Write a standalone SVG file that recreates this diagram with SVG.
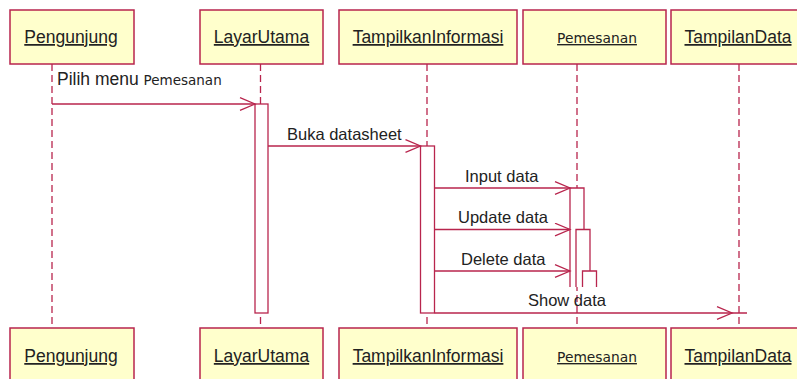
<svg xmlns="http://www.w3.org/2000/svg" width="797" height="379" viewBox="0 0 797 379">
  <style>
    .obj { fill: #FFFFCC; stroke: #B8254D; stroke-width: 1.5; }
    .name { font-family: "Liberation Sans", Arial, sans-serif; font-size: 17.5px; fill: #222; text-anchor: middle; text-decoration: underline; }
    .name-s { font-family: "DejaVu Sans", Verdana, sans-serif; font-size: 13.8px; fill: #222; text-anchor: middle; text-decoration: underline; }
    .life { stroke: #B8254D; stroke-width: 1.3; stroke-dasharray: 7 4; fill: none; }
    .act { fill: #FFFFFF; stroke: #B8254D; stroke-width: 1.3; }
    .actf { fill: #FFFFFF; stroke: none; }
    .acts { fill: none; stroke: #B8254D; stroke-width: 1.3; }
    .msg { stroke: #B8254D; stroke-width: 1.3; fill: none; }
    .head { stroke: #B8254D; stroke-width: 1.3; fill: none; }
    .lbl { font-family: "Liberation Sans", Arial, sans-serif; font-size: 16.5px; fill: #222; }
    .lbl-s { font-family: "DejaVu Sans", Verdana, sans-serif; font-size: 13.5px; fill: #222; }
  </style>
  <defs>
    <marker id="open" markerWidth="18" markerHeight="14" refX="16" refY="7" orient="auto" markerUnits="userSpaceOnUse">
      <path d="M1,0.7 L16,7 L1,13.3" class="head"/>
    </marker>
  </defs>

  <!-- lifelines -->
  <g id="lifelines">
    <line class="life" x1="52" y1="64" x2="52" y2="328"/>
    <line class="life" x1="260.5" y1="64" x2="260.5" y2="328"/>
    <line class="life" x1="427" y1="64" x2="427" y2="328"/>
    <line class="life" x1="577" y1="64" x2="577" y2="328"/>
    <line class="life" x1="739" y1="64" x2="739" y2="328"/>
  </g>

  <!-- top object boxes -->
  <g id="pengunjung-top">
    <rect class="obj" x="10" y="10" width="124" height="54"/>
    <text class="name" x="71" y="43">Pengunjung</text>
  </g>
  <g id="layarutama-top">
    <rect class="obj" x="200" y="10" width="123" height="54"/>
    <text class="name" x="261.5" y="43">LayarUtama</text>
  </g>
  <g id="tampilkaninformasi-top">
    <rect class="obj" x="339" y="10" width="178" height="54"/>
    <text class="name" x="428" y="43">TampilkanInformasi</text>
  </g>
  <g id="pemesanan-top">
    <rect class="obj" x="523" y="10" width="143" height="54"/>
    <text class="name-s" x="597" y="43">Pemesanan</text>
  </g>
  <g id="tampilandata-top">
    <rect class="obj" x="671" y="10" width="136" height="54"/>
    <text class="name" x="738" y="43">TampilanData</text>
  </g>

  <!-- activation bars -->
  <g id="activations">
    <rect class="act" x="255" y="104" width="13" height="209"/>
    <rect class="act" x="420.5" y="146" width="14" height="167"/>
    <rect class="actf" x="570" y="188" width="14" height="99"/>
    <path class="acts" d="M570,287 V188 H584 V229"/>
    <rect class="actf" x="576" y="229.5" width="14" height="57.5"/>
    <path class="acts" d="M576,287 V229.5 H590 V271"/>
    <rect class="actf" x="582.5" y="271" width="14" height="16"/>
    <path class="acts" d="M582.5,287 V271 H596.5 V287"/>
  </g>

  <!-- messages -->
  <g id="connectors">
    <line class="msg" x1="52" y1="104" x2="255" y2="104" marker-end="url(#open)"/>
    <text x="57" y="85"><tspan class="lbl" style="font-size:17.5px">Pilih menu </tspan><tspan class="lbl-s">Pemesanan</tspan></text>

    <line class="msg" x1="268" y1="146" x2="420.5" y2="146" marker-end="url(#open)"/>
    <text class="lbl" x="287" y="140">Buka datasheet</text>

    <line class="msg" x1="434.5" y1="188" x2="570" y2="188" marker-end="url(#open)"/>
    <text class="lbl" x="465" y="182">Input data</text>

    <line class="msg" x1="434.5" y1="229.5" x2="570" y2="229.5" marker-end="url(#open)"/>
    <text class="lbl" x="458" y="223">Update data</text>

    <line class="msg" x1="434.5" y1="271" x2="570" y2="271" marker-end="url(#open)"/>
    <text class="lbl" x="461" y="265">Delete data</text>

    <line class="msg" x1="434.5" y1="313" x2="747" y2="313"/>
    <path class="head" d="M717,306.7 L732,313 L717,319.3"/>
    <text class="lbl" x="528" y="306">Show data</text>
  </g>

  <!-- bottom object boxes -->
  <g id="pengunjung-bottom">
    <rect class="obj" x="10" y="328" width="124" height="60"/>
    <text class="name" x="71" y="362">Pengunjung</text>
  </g>
  <g id="layarutama-bottom">
    <rect class="obj" x="200" y="328" width="123" height="60"/>
    <text class="name" x="261.5" y="362">LayarUtama</text>
  </g>
  <g id="tampilkaninformasi-bottom">
    <rect class="obj" x="339" y="328" width="178" height="60"/>
    <text class="name" x="428" y="362">TampilkanInformasi</text>
  </g>
  <g id="pemesanan-bottom">
    <rect class="obj" x="523" y="328" width="143" height="60"/>
    <text class="name-s" x="597" y="362">Pemesanan</text>
  </g>
  <g id="tampilandata-bottom">
    <rect class="obj" x="671" y="328" width="136" height="60"/>
    <text class="name" x="738" y="362">TampilanData</text>
  </g>
</svg>
